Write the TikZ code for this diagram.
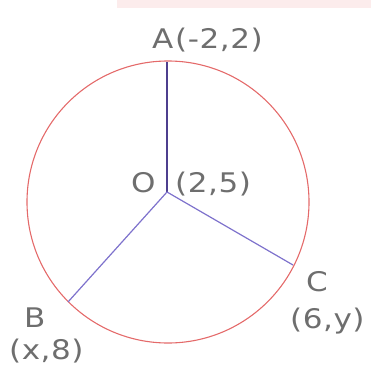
\documentclass[tikz,border=0pt]{standalone}
\usepackage{fontspec}
\setmainfont{DejaVu Sans}[FakeStretch=1.15,LetterSpace=2]
\definecolor{ringred}{HTML}{E46A6A}
\definecolor{spokeblue}{HTML}{7E72CC}
\definecolor{spokedark}{HTML}{4E3F8E}
\definecolor{lblgray}{HTML}{6E6E6E}
\definecolor{bandpink}{HTML}{FCECEC}

\begin{document}
\begin{tikzpicture}[x=1pt,y=-1pt,
  lbl/.style={anchor=base west,inner sep=0pt,text=lblgray,font=\fontsize{27}{32}\selectfont},
  spoke/.style={line width=1.2pt,draw=spokeblue}]
\useasboundingbox (0,0) rectangle (371,372);
\fill[bandpink] (117,0) rectangle (371,8);
% circle and its points
\coordinate (M) at (168,202);
\coordinate (O) at (167,192);
\coordinate (A) at (167,62);
\coordinate (B) at (68,302);
\coordinate (C) at (293,265);
\draw[ringred, line width=1.1pt] (M) circle (141);
\draw[spoke, draw=spokedark] (O) -- (A);
\draw[spoke] (O) -- (B);
\draw[spoke] (O) -- (C);
% labels
\node[lbl] (la) at (152,48) {A};
\node[lbl] (lac) at (175,48) {(-2,2)};
\node[lbl] (lo) at (131,192) {O};
\node[lbl] (loc) at (175,192) {(2,5)};
\node[lbl] (lb) at (24,327) {B};
\node[lbl] (lbc) at (9,359) {(x,8)};
\node[lbl] (lc) at (306,291) {C};
\node[lbl] (lcc) at (290,328) {(6,y)};
\end{tikzpicture}
\end{document}
